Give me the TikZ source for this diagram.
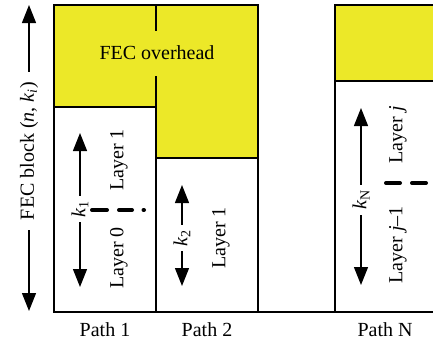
\documentclass[tikz,border=0pt]{standalone}
\usepackage{fontspec}
\setmainfont{Liberation Serif}
\usetikzlibrary{arrows.meta}
\definecolor{fecyellow}{RGB}{236,232,40}
\begin{document}
\begin{tikzpicture}[x=1pt,y=-1pt,
  box/.style={draw=black,line width=1.5pt,fill=white},
  ovh/.style={draw=black,line width=1.5pt,fill=fecyellow},
  dim/.style={line width=1.4pt,{Triangle[width=14pt,length=18pt]}-{Triangle[width=14pt,length=18pt]}},
  txt/.style={font=\fontsize{20}{24}\selectfont,inner sep=0pt},
  vtxt/.style={txt,rotate=90},
  lab/.style={vtxt,fill=white,inner ysep=2pt},
  sepline/.style={line width=4pt,line cap=round}]
\useasboundingbox (0,0) rectangle (433,348);
\clip (0,0) rectangle (433,348);
% baseline
\draw[line width=1.2pt] (54,312) -- (433,312);
% Path 1
\draw[box] (54,107) rectangle (156,312);
\draw[ovh] (54,5) rectangle (156,107);
% Path 2
\draw[box] (156,158) rectangle (258,312);
\draw[ovh] (156,5) rectangle (258,158);
% Path N
\draw[box] (335,81) rectangle (445,312);
\draw[ovh] (335,5) rectangle (445,81);
% FEC overhead label
\node[txt,fill=fecyellow,minimum height=45pt,inner xsep=2pt] (ovhlab) at (157,53) {FEC overhead};
% left FEC block arrow
\coordinate (ltop) at (29,5);
\coordinate (lbot) at (29,311);
\draw[dim] (lbot) -- (ltop);
\node[lab,inner xsep=10pt] (fecblock) at (29,151) {FEC block (\textit{n}, \textit{k}\textsubscript{\textit{i}})};
% Path 1 contents
\coordinate (a1top) at (80,133);
\coordinate (a1bot) at (80,287);
\draw[dim] (a1bot) -- (a1top);
\node[lab,inner xsep=5pt] (k1) at (80,209) {\textit{k}\textsubscript{1}};
\node[vtxt] (p1l1) at (119,160) {Layer 1};
\node[vtxt] (p1l0) at (119,258) {Layer 0};
\coordinate (d1a) at (92,210);
\coordinate (d1b) at (107,210);
\coordinate (d1c) at (119,210);
\coordinate (d1d) at (132,210);
\coordinate (d1e) at (143.5,210);
\coordinate (d1f) at (144,210);
\draw[sepline] (d1a) -- (d1b) (d1c) -- (d1d) (d1e) -- (d1f);
% Path 2 contents
\coordinate (a2top) at (182,185);
\coordinate (a2bot) at (182,286);
\draw[dim] (a2bot) -- (a2top);
\node[lab,inner xsep=5pt] (k2) at (182,238) {\textit{k}\textsubscript{2}};
\node[vtxt] (p2l1) at (221,238) {Layer 1};
% Path N contents
\coordinate (aNtop) at (361,108);
\coordinate (aNbot) at (361,285);
\draw[dim] (aNbot) -- (aNtop);
\node[lab,inner xsep=5pt] (kN) at (361,200) {\textit{k}\textsubscript{N}};
\node[vtxt] (pNlj) at (398,135) {Layer \textit{j}};
\node[vtxt] (pNlj1) at (398,245) {Layer \textit{j}–1};
\coordinate (dNa) at (386,183);
\coordinate (dNb) at (400,183);
\coordinate (dNc) at (412,183);
\coordinate (dNd) at (426,183);
\draw[sepline] (dNa) -- (dNb) (dNc) -- (dNd);
% path labels
\node[txt] (path1) at (105,330) {Path 1};
\node[txt] (path2) at (207,330) {Path 2};
\node[txt] (pathN) at (385,330) {Path N};
\end{tikzpicture}
\end{document}
